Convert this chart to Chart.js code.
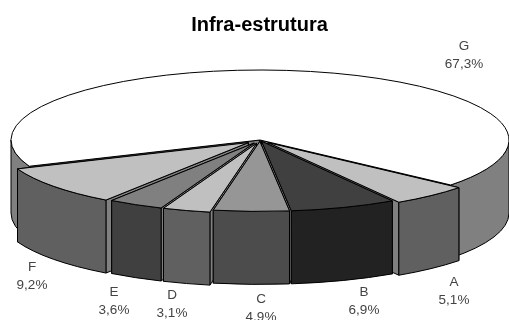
<!DOCTYPE html>
<html>
<head>
<meta charset="utf-8">
<title>Infra-estrutura</title>
<script src="https://cdn.jsdelivr.net/npm/chart.js@4/dist/chart.umd.js"></script>
<style>
	html, body { margin: 0; padding: 0; background: #fff; overflow: hidden; }
	canvas { display: block; }
</style>
</head>
<body>
<canvas id="pieChart" width="509" height="320"></canvas>
<script>
const categories = ['A', 'B', 'C', 'D', 'E', 'F', 'G'];
const seriesValues = [5.1, 6.9, 4.9, 3.1, 3.6, 9.2, 67.3];
const valueLabels = ['5,1%', '6,9%', '4,9%', '3,1%', '3,6%', '9,2%', '67,3%'];

const topColors = ['#c0c0c0', '#404040', '#969696', '#c0c0c0', '#808080', '#c0c0c0', '#ffffff'];
const wallColors = ['#606060', '#222222', '#4c4c4c', '#606060', '#404040', '#606060', '#808080'];
// pulled out from the centre, share of the radius
const explode = [0.05, 0.02, 0.02, 0.05, 0.05, 0.06, 0];

// flattened pie: ellipse size and wall height on the page
const view = { cx: 260, cy: 140, rx: 249, ry: 70, depth: 73 };
// back to front
const drawOrder = [6, 5, 0, 4, 1, 3, 2];
// name line position for each slice, value line sits 18px lower
const labelPos = [[454, 282], [364, 292], [261, 299], [172, 295], [114, 292], [32, 267], [464, 46]];

const pie3d = {
	id: 'pie3d',
	beforeDatasetDraw(chart) {
		const ctx = chart.ctx;
		const arcs = chart.getDatasetMeta(0).data;
		drawOrder.forEach((i) => drawSlice(ctx, arcs[i], wallColors[i], explode[i]));

		ctx.save();
		ctx.fillStyle = '#444';
		ctx.font = '13.5px "Liberation Sans"';
		ctx.textAlign = 'center';
		ctx.textBaseline = 'middle';
		categories.forEach((name, i) => {
			ctx.fillText(name, labelPos[i][0], labelPos[i][1]);
			ctx.fillText(valueLabels[i], labelPos[i][0], labelPos[i][1] + 18);
		});
		ctx.restore();
		return false;
	}
};

function drawSlice(ctx, arc, wallColor, pull) {
	const { x, y, startAngle, endAngle, outerRadius } = arc.getProps(['x', 'y', 'startAngle', 'endAngle', 'outerRadius']);
	const sx = view.rx / outerRadius;
	const sy = view.ry / outerRadius;
	const mid = (startAngle + endAngle) / 2;
	const cx = view.cx + Math.cos(mid) * pull * view.rx;
	const cy = view.cy + Math.sin(mid) * pull * view.ry;
	const d = view.depth;

	ctx.save();
	ctx.lineWidth = 1;
	ctx.strokeStyle = '#000';
	ctx.lineJoin = 'round';

	// cut faces, the one turned towards us goes last
	const faces = Math.cos(mid) < 0 ? [endAngle, startAngle] : [startAngle, endAngle];
	ctx.fillStyle = '#808080';
	faces.forEach((a) => {
		const ex = cx + Math.cos(a) * view.rx;
		const ey = cy + Math.sin(a) * view.ry;
		ctx.beginPath();
		ctx.moveTo(cx, cy);
		ctx.lineTo(ex, ey);
		ctx.lineTo(ex, ey + d);
		ctx.lineTo(cx, cy + d);
		ctx.closePath();
		ctx.fill();
		ctx.stroke();
	});

	// outer wall, only the part facing us
	ctx.fillStyle = wallColor;
	[0, 2 * Math.PI].forEach((turn) => {
		const lo = Math.max(startAngle, turn);
		const hi = Math.min(endAngle, turn + Math.PI);
		if (lo >= hi) return;
		ctx.beginPath();
		ctx.ellipse(cx, cy, view.rx, view.ry, 0, lo, hi);
		ctx.ellipse(cx, cy + d, view.rx, view.ry, 0, hi, lo, true);
		ctx.closePath();
		ctx.fill();
		ctx.stroke();
	});

	// top face is the library's own arc, squashed
	ctx.save();
	ctx.translate(cx, cy);
	ctx.scale(sx, sy);
	ctx.translate(-x, -y);
	arc.draw(ctx);
	ctx.restore();

	ctx.beginPath();
	ctx.moveTo(cx, cy);
	ctx.ellipse(cx, cy, view.rx, view.ry, 0, startAngle, endAngle);
	ctx.closePath();
	ctx.stroke();
	ctx.restore();
}

new Chart(document.getElementById('pieChart'), {
	type: 'pie',
	data: {
		labels: categories,
		datasets: [{
			data: seriesValues,
			backgroundColor: topColors,
			borderWidth: 0
		}]
	},
	options: {
		responsive: false,
		animation: false,
		rotation: 130,
		layout: { padding: { left: 10 } },
		plugins: {
			legend: { display: false },
			tooltip: { enabled: false },
			title: {
				display: true,
				text: 'Infra-estrutura',
				color: '#000',
				font: { family: '"Liberation Sans"', size: 20, weight: 'bold' },
				padding: { top: 13, bottom: 10 }
			}
		}
	},
	plugins: [pie3d]
});
</script>
</body>
</html>
